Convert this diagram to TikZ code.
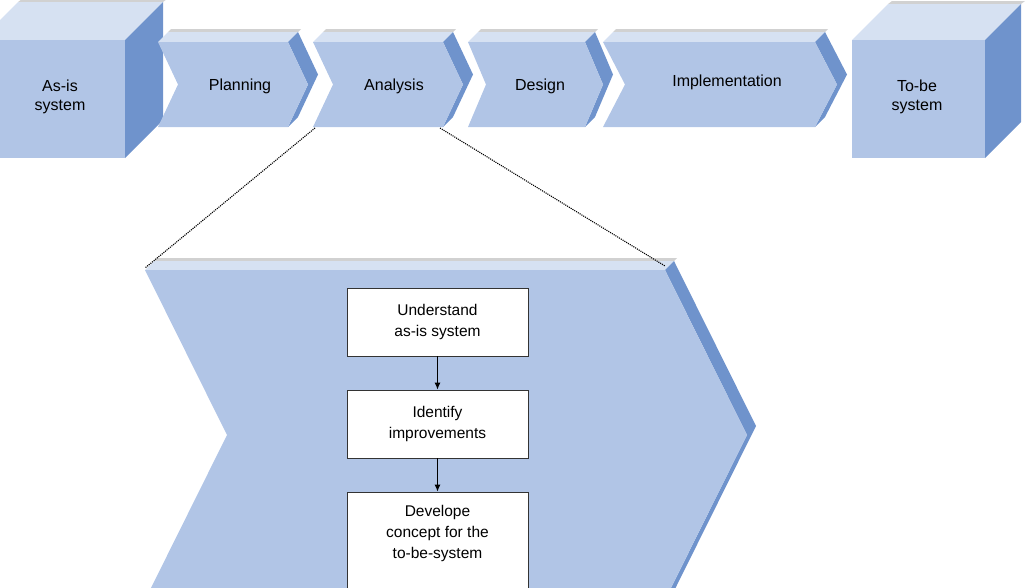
\documentclass[tikz,border=0pt]{standalone}
\usepackage{fontspec}
\setmainfont{Liberation Sans}
\usetikzlibrary{arrows.meta}
\definecolor{cfront}{HTML}{B1C5E6}
\definecolor{ctop}{HTML}{D6E1F2}
\definecolor{cside}{HTML}{6F93CC}
\newcommand{\mychev}[6]{% xl xr yt yb notch depth
  \pgfmathsetmacro{\ym}{(#3+#4)/2}
  \fill[black!18] (#1+#6+3,#3-#6-3) -- (#2+#6+3,#3-#6-3) -- (#2+#6,#3-#6) -- (#1+#6,#3-#6) -- cycle;
  \fill[ctop] (#1,#3) -- (#1+#6,#3-#6) -- (#2+#6,#3-#6) -- (#2,#3) -- cycle;
  \fill[cside] (#2,#3) -- (#2+#6,#3-#6) -- (#2+#5+#6,\ym-#6) -- (#2+#6,#4-#6) -- (#2,#4) -- (#2+#5,\ym) -- cycle;
  \fill[cfront] (#1,#3) -- (#2,#3) -- (#2+#5,\ym) -- (#2,#4) -- (#1,#4) -- (#1+#5,\ym) -- cycle;
}
\newcommand{\mycube}[5]{% xl xr yt yb depth
  \fill[black!18] (#1+#5+4,#3-#5-3) -- (#2+#5+4,#3-#5-3) -- (#2+#5,#3-#5) -- (#1+#5,#3-#5) -- cycle;
  \fill[ctop] (#1,#3) -- (#1+#5,#3-#5) -- (#2+#5,#3-#5) -- (#2,#3) -- cycle;
  \fill[cside] (#2,#3) -- (#2+#5,#3-#5) -- (#2+#5,#4-#5) -- (#2,#4) -- cycle;
  \fill[cfront] (#1,#3) rectangle (#2,#4);
}
\tikzset{lbl/.style={font=\fontsize{16}{19}\selectfont, align=center, inner sep=0pt},
  step box/.style={draw=black!80, line width=0.8pt, fill=white, minimum width=181pt, minimum height=68pt, align=center, font=\fontsize{15.5}{21}\selectfont, inner sep=0pt},
  arr/.style={-{Latex[length=7pt,width=6pt]}, line width=1pt},
  dot/.style={densely dotted, line width=1.1pt}}
\begin{document}
\begin{tikzpicture}[x=1pt,y=-1pt]
\useasboundingbox (0,0) rectangle (1032,587);
\clip (0,0) rectangle (1032,587);
\mycube{-20}{125}{40}{158}{38}
\mychev{158}{288}{42}{127}{20}{10}
\mychev{313}{443}{42}{127}{20}{10}
\mychev{468}{585}{42}{127}{18}{10}
\mychev{603}{815}{42}{127}{22}{10}
\mycube{852}{985}{40}{158}{36}
\node[lbl] (asis) at (60,97) {As-is\\system};
\node[lbl] (plan) at (240,86) {Planning};
\node[lbl] (ana) at (394,86) {Analysis};
\node[lbl] (des) at (540,86) {Design};
\node[lbl] (imp) at (727,82) {Implementation};
\node[lbl] (tobe) at (917,97) {To-be\\system};
% big chevron
\mychev{145}{665}{270}{600}{82}{9}
\coordinate (a1) at (315,128);
\coordinate (a2) at (440,128);
\coordinate (b1) at (145,268);
\coordinate (b2) at (665,266);
\draw[dot] (a1) -- (b1);
\draw[dot] (a2) -- (b2);
\node[step box] (s1) at (437.5,322) {Understand\\as-is system};
\node[step box] (s2) at (437.5,424) {Identify\\improvements};
\node[step box, minimum height=100pt] (s3) at (437.5,542) {Develope\\concept for the\\to-be-system\\ };
\draw[arr] (s1) -- (s2);
\draw[arr] (s2) -- (s3);
\end{tikzpicture}
\end{document}
